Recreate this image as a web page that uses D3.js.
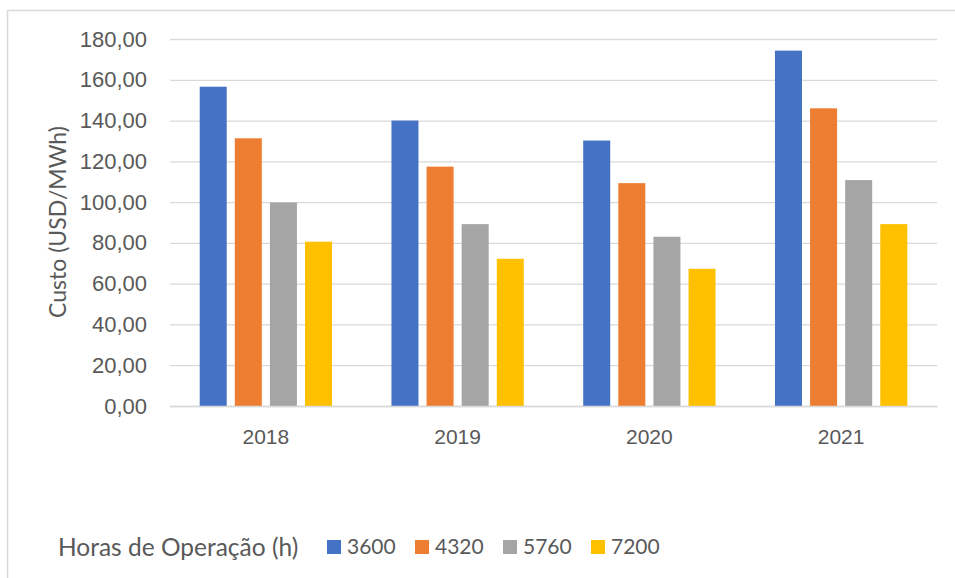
<!DOCTYPE html>
<html>
<head>
<meta charset="utf-8">
<script src="https://cdn.jsdelivr.net/npm/d3@7"></script>
<style>
  body { margin: 0; background: #fff; }
  svg { display: block; font-family: Lato, "Open Sans", sans-serif; }
</style>
</head>
<body>
<svg id="chart"></svg>
<script>
const years = ["2018", "2019", "2020", "2021"];
const series = ["3600", "4320", "5760", "7200"];
const colors = ["#4472c4", "#ed7d31", "#a5a5a5", "#ffc000"];
const v3600 = [156.6, 140.0, 130.2, 174.3];
const v4320 = [131.3, 117.4, 109.3, 146.0];
const v5760 = [99.8, 89.2, 83.0, 110.8];
const v7200 = [80.6, 72.2, 67.3, 89.2];
const yTicks = [0, 20, 40, 60, 80, 100, 120, 140, 160, 180];

const values = [v3600, v4320, v5760, v7200];

const width = 955;
const height = 578;
const textColor = '#595959';

const svg = d3.select('#chart')
    .attr('width', width)
    .attr('height', height);

// chart area border
svg.append('rect')
    .attr('x', 7.5)
    .attr('y', 10.5)
    .attr('width', 1000)
    .attr('height', 700)
    .attr('fill', 'none')
    .attr('stroke', '#d9d9d9')
    .attr('stroke-width', 1.5);

const plot = { left: 170, right: 937, top: 39, bottom: 406 };

const x = d3.scaleBand()
  .domain(years)
  .range([plot.left, plot.right]);

const y = d3.scaleLinear()
  .domain([0, 180])
  .range([plot.bottom, plot.top]);

// bar layout within a category (gap width ~220%, overlap -30%)
const barW = x.bandwidth() / 7.1;
const inner = d3.scaleBand()
  .domain(series)
  .range([0, barW * 4.9])
  .paddingInner(0.3 / 1.3)
  .paddingOuter(0);

const yAxis = d3.axisLeft(y)
  .tickValues(yTicks)
  .tickSize(-(plot.right - plot.left))
  .tickPadding(23)
  .tickFormat(d => d3.format('.2f')(d).replace('.', ','));

const gy = svg.append('g')
    .attr('transform', 'translate(' + plot.left + ',0)')
    .call(yAxis);
gy.select('.domain').remove();
gy.selectAll('line')
    .attr('stroke', '#d9d9d9')
    .attr('stroke-width', 1.3);
gy.selectAll('text')
    .attr('fill', textColor)
    .style('font-size', '22px');

const groups = svg.selectAll('.year')
  .data(years)
  .enter().append('g')
    .attr('class', 'year')
    .attr('transform', d => 'translate(' + (x(d) + barW * 1.1) + ',0)');

groups.selectAll('rect')
  .data((d, i) => series.map((s, j) => ({ s: s, v: values[j][i], c: colors[j] })))
  .enter().append('rect')
    .attr('x', d => inner(d.s))
    .attr('width', inner.bandwidth())
    .attr('y', d => y(d.v))
    .attr('height', d => y(0) - y(d.v))
    .attr('fill', d => d.c);

const xAxis = d3.axisBottom(x).tickSize(0).tickPadding(23);
const gx = svg.append('g')
    .attr('transform', 'translate(0,' + plot.bottom + ')')
    .call(xAxis);
gx.select('.domain')
    .attr('stroke', '#d9d9d9')
    .attr('stroke-width', 1.3);
gx.selectAll('text')
    .attr('fill', textColor)
    .style('font-size', '21px');

svg.append('text')
    .attr('transform', 'translate(58,222) rotate(-90)')
    .attr('text-anchor', 'middle')
    .attr('dy', '0.35em')
    .attr('fill', textColor)
    .style('font-size', '23px')
    .text('Custo (USD/MWh)');

// legend
const legend = svg.append('g')
    .attr('transform', 'translate(0,547)');

legend.append('text')
    .attr('x', 58)
    .attr('dy', '0.35em')
    .attr('fill', textColor)
    .style('font-size', '24.5px')
    .text('Horas de Operação (h)');

const item = legend.selectAll('.item')
  .data(series)
  .enter().append('g')
    .attr('class', 'item')
    .attr('transform', (d, i) => 'translate(' + (327 + i * 88) + ',0)');

item.append('rect')
    .attr('y', -7)
    .attr('width', 14)
    .attr('height', 14)
    .attr('fill', (d, i) => colors[i]);

item.append('text')
    .attr('x', 20)
    .attr('dy', '0.35em')
    .attr('fill', textColor)
    .style('font-size', '21px')
    .text(d => d);
</script>
</body>
</html>
